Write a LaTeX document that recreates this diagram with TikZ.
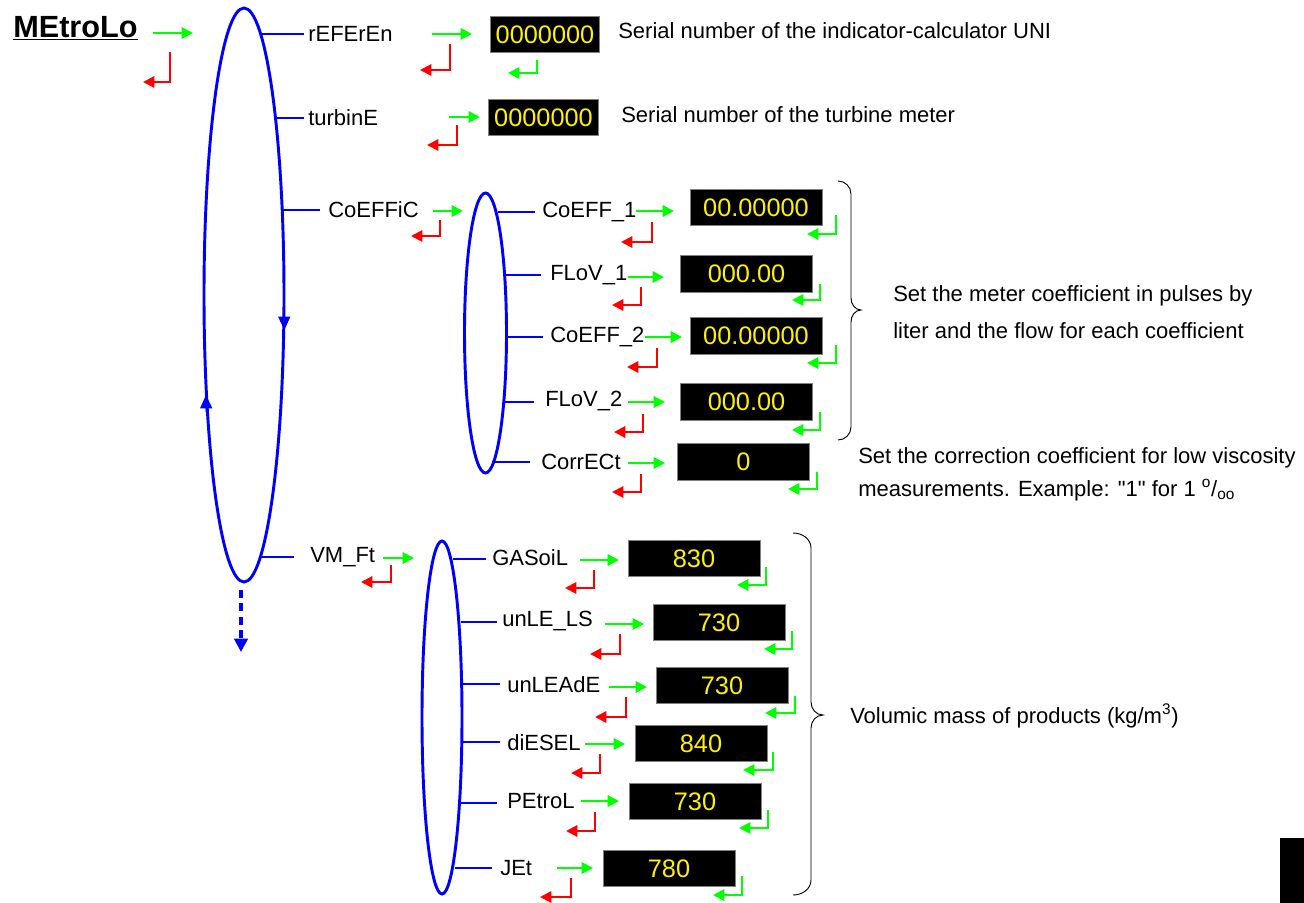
\documentclass[tikz,border=0pt]{standalone}
\usepackage{fontspec}
\setmainfont{Liberation Sans}[Ligatures=TeXOff]
\usetikzlibrary{arrows.meta,shapes.geometric}
\definecolor{gA}{RGB}{0,255,0}
\definecolor{rA}{RGB}{255,0,0}
\definecolor{bA}{RGB}{0,0,255}
\tikzset{
  lbl/.style={anchor=west,inner sep=0pt,font=\fontsize{16.5}{19}\selectfont},
  desc/.style={anchor=west,inner sep=0pt,font=\fontsize{16.5}{19}\selectfont,align=left},
  disp/.style={fill=black,draw=gray,line width=0.6pt,text=yellow,inner sep=0pt,
    font=\fontsize{19}{22}\selectfont,minimum width=99pt,minimum height=27.5pt},
  dispS/.style={disp,minimum width=82pt,minimum height=26.5pt},
  garrow/.style={draw=gA,line width=1.5pt,-{Triangle[length=8.5pt,width=8.5pt]}},
  rarrow/.style={draw=rA,line width=1.5pt,-{Triangle[length=8.5pt,width=8.5pt]}},
  bline/.style={draw=bA,line width=1.6pt},
  bell/.style={draw=bA,line width=2.2pt},
  brace/.style={draw=black,line width=0.7pt}
}
\begin{document}
\begin{tikzpicture}[x=0.75pt,y=-0.75pt]
\useasboundingbox (0,0) rectangle (1304,903);

% title
\node[anchor=west,inner sep=0pt,font=\fontsize{23}{26}\selectfont\bfseries] (title) at (13,28) {\underline{MEtroLo}};
\draw[garrow] (153,33) -- (193,33);
\draw[rarrow] (170,52) -- (170,82) -- (143,82);

% big ellipse
\draw[bell] (244,295) ellipse [x radius=40, y radius=287];
\draw[draw=bA,line width=1pt,-{Triangle[length=10pt,width=9pt]}] (284.2,312) -- (284.4,330);
\draw[draw=bA,line width=1pt,-{Triangle[length=10pt,width=9pt]}] (206.2,412) -- (206.0,395);
\draw[draw=bA,line width=2.4pt,dash pattern=on 6pt off 4pt,-{Triangle[length=10pt,width=10pt]}] (241,590) -- (241,652);

% rEFErEn
\draw[bline] (261,34) -- (304,34);
\node[lbl] (ref) at (308,34) {rEFErEn};
\draw[garrow] (432,34) -- (472,34);
\draw[rarrow] (450,44) -- (450,70) -- (420,70);
\node[dispS] (refbox) at (545,34.5) {0000000};
\draw[garrow] (537,60) -- (537,73) -- (508,73);
\node[desc] (refd) at (618,31) {Serial number of the indicator-calculator UNI};

% turbinE
\draw[bline] (276,118) -- (304,118);
\node[lbl] (turb) at (308,118) {turbinE};
\draw[garrow] (449,117) -- (480,117);
\draw[rarrow] (457,125) -- (457,145) -- (427,145);
\node[dispS] (turbbox) at (543.5,117.5) {0000000};
\node[desc] (turbd) at (621,115) {Serial number of the turbine meter};

% CoEFFiC
\draw[bline] (283,210) -- (320,210);
\node[lbl] (coef) at (328,210) {CoEFFiC};
\draw[garrow] (433,211) -- (463,211);
\draw[rarrow] (440,220) -- (440,236) -- (411,236);

\draw[bell] (485.5,333) ellipse [x radius=21, y radius=140];

% CoEFF_1
\draw[bline] (498,212) -- (535,212);
\node[lbl] (c1) at (542,212) {CoEFF\_1};
\draw[garrow] (636,211) -- (674,211);
\draw[rarrow] (652,222) -- (652,242) -- (621,242);
\node[disp] (c1box) at (756,207.5) {00.00000};
\draw[garrow] (836,215) -- (836,234) -- (807,234);

% FLoV_1
\draw[bline] (505,275) -- (541,275);
\node[lbl] (f1) at (550,275) {FLoV\_1};
\draw[garrow] (628,277) -- (664,277);
\draw[rarrow] (641,287) -- (641,305) -- (612,305);
\node[disp] (f1box) at (746.5,274) {000.00};
\draw[garrow] (820,284) -- (820,300) -- (792,300);

% CoEFF_2
\draw[bline] (507,337) -- (543,337);
\node[lbl] (c2) at (550,337) {CoEFF\_2};
\draw[garrow] (645,337) -- (682,337);
\draw[rarrow] (657,348) -- (657,367) -- (627,367);
\node[disp] (c2box) at (756,336) {00.00000};
\draw[garrow] (836,345) -- (836,363) -- (807,363);

% FLoV_2
\draw[bline] (503,402) -- (534,402);
\node[lbl] (f2) at (545,401) {FLoV\_2};
\draw[garrow] (628,402) -- (665,402);
\draw[rarrow] (643,414) -- (643,432) -- (614,432);
\node[disp] (f2box) at (746.5,402) {000.00};
\draw[garrow] (820,412) -- (820,430) -- (792,430);

% CorrECt
\draw[bline] (492,462) -- (530,462);
\node[lbl] (corr) at (541,462) {CorrECt};
\draw[garrow] (628,463) -- (665,463);
\draw[rarrow] (641,474) -- (641,492) -- (612,492);
\node[disp] (corrbox) at (743.5,462) {0};
\draw[garrow] (817,472) -- (817,489) -- (788,489);

% brace 1
\draw[brace] (838,181) to[out=0,in=90] (851,194) -- (851,298) to[out=-90,in=180] (861,310)
  to[out=180,in=90] (851,322) -- (851,427) to[out=-90,in=0] (838,440);
\node[desc] (cd1) at (893,296) {Set the meter coefficient in pulses by};
\node[desc] (cd2) at (893,331) {liter and the flow for each coefficient};
\node[desc] (cd3) at (858,458) {Set the correction coefficient for low viscosity};
\node[desc] (cd4) at (858,490) {measurements. Example: "1" for 1 \textsuperscript{o}/\textsubscript{oo}};

% VM_Ft
\draw[bline] (260,557) -- (294,557);
\node[lbl] (vm) at (310,557) {VM\_Ft};
\draw[garrow] (383,558) -- (414,558);
\draw[rarrow] (391,565) -- (391,582) -- (361,582);

\draw[bell] (442,717.5) ellipse [x radius=20, y radius=176.5];

% GASoiL
\draw[bline] (453,559) -- (486,559);
\node[lbl] (gas) at (492,558) {GASoiL};
\draw[garrow] (580,560) -- (619,560);
\draw[rarrow] (594,570) -- (594,588) -- (565,588);
\node[disp] (gasbox) at (694,558.5) {830};
\draw[garrow] (766,567) -- (766,585) -- (737,585);

% unLE_LS
\draw[bline] (461,622) -- (497,622);
\node[lbl] (uls) at (502,621) {unLE\_LS};
\draw[garrow] (605,624) -- (644,624);
\draw[rarrow] (620,634) -- (620,654) -- (590,654);
\node[disp] (ulsbox) at (719,622.5) {730};
\draw[garrow] (792,631) -- (792,649) -- (764,649);

% unLEAdE
\draw[bline] (463,684) -- (500,684);
\node[lbl] (ula) at (507,685) {unLEAdE};
\draw[garrow] (609,687) -- (647,687);
\draw[rarrow] (626,697) -- (626,717) -- (595,717);
\node[disp] (ulabox) at (722,685.5) {730};
\draw[garrow] (795,696) -- (795,713) -- (765,713);

% diESEL
\draw[bline] (462,742) -- (500,742);
\node[lbl] (die) at (507,743) {diESEL};
\draw[garrow] (585,744) -- (625,744);
\draw[rarrow] (600,754) -- (600,773) -- (571,773);
\node[disp] (diebox) at (701,743.5) {840};
\draw[garrow] (773,752) -- (773,770) -- (743,770);

% PEtroL
\draw[bline] (460,803) -- (497,803);
\node[lbl] (pet) at (507,801) {PEtroL};
\draw[garrow] (581,801) -- (619,801);
\draw[rarrow] (595,812) -- (595,831) -- (566,831);
\node[disp] (petbox) at (695,801.5) {730};
\draw[garrow] (768,810) -- (768,828) -- (739,828);

% JEt
\draw[bline] (455,868) -- (492,868);
\node[lbl] (jet) at (500,868) {JEt};
\draw[garrow] (557,868) -- (593,868);
\draw[rarrow] (571,878) -- (571,897) -- (540,897);
\node[disp] (jetbox) at (669,868.5) {780};
\draw[garrow] (742,876) -- (742,895) -- (713,895);

% brace 2
\draw[brace] (793,533) to[out=0,in=90] (811,548) -- (811,702) to[out=-90,in=180] (823,715)
  to[out=180,in=90] (811,728) -- (811,880) to[out=-90,in=0] (793,895);
\node[desc] (vmd) at (850,716) {Volumic mass of products (kg/m\textsuperscript{3})};

% black block
\fill[black] (1280,838) rectangle (1304,903);
\node[inner sep=0pt] (blk) at (1292,870.5) {};
\end{tikzpicture}
\end{document}
